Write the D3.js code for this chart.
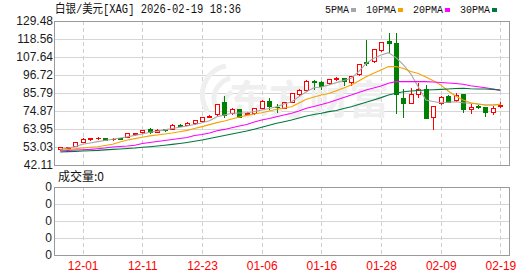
<!DOCTYPE html>
<html lang="zh">
<head>
  <meta charset="UTF-8">
  <title>白银/美元[XAG] 日K</title>
  <script src="https://d3js.org/d3.v7.min.js"></script>
  <style>
    body
    {
      margin: 0;
      background-color: #fff;
    }

    svg
    {
      display: block;
      font-family: "Liberation Sans", "Noto Sans CJK SC", sans-serif;
    }
  </style>
</head>
<body>
  <svg id="chart" width="530" height="276"></svg>
  <script>
    // trading days shown on the chart (month-day)
    const dates = [
      "11-26", "11-27", "11-28", "12-01", "12-02", "12-03", "12-04", "12-05", "12-08", "12-09",
      "12-10", "12-11", "12-12", "12-15", "12-16", "12-17", "12-18", "12-19", "12-22", "12-23",
      "12-24", "12-26", "12-29", "12-30", "12-31", "01-02", "01-05", "01-06", "01-07", "01-08",
      "01-09", "01-12", "01-13", "01-14", "01-15", "01-16", "01-19", "01-20", "01-21", "01-22",
      "01-23", "01-26", "01-27", "01-28", "01-29", "01-30", "02-02", "02-03", "02-04", "02-05",
      "02-06", "02-09", "02-10", "02-11", "02-12", "02-13", "02-16", "02-17", "02-18", "02-19"
    ];

    const open = [
      51.7, 52.6, 53.6, 56.3, 58.1, 58.4, 58.5, 57.6, 58.3, 59.1,
      60.8, 62.0, 63.8, 62.1, 63.8, 64.1, 66.6, 66.6, 67.4, 69.0,
      71.4, 72.9, 80.2, 73.5, 75.9, 73.3, 73.5, 76.9, 81.0, 77.2,
      76.9, 80.5, 85.0, 87.6, 93.3, 92.6, 91.7, 94.3, 94.7, 92.6,
      97.1, 104.8, 105.2, 111.9, 117.3, 116.3, 83.0, 79.9, 85.2, 88.0,
      71.4, 79.5, 84.0, 81.6, 85.0, 75.9, 77.7, 77.1, 74.4, 78.2
    ];
    const high = [
      53.0, 53.2, 56.0, 58.2, 58.3, 59.0, 58.7, 58.3, 58.4, 61.5,
      61.8, 63.5, 64.4, 63.7, 63.9, 66.8, 66.7, 68.2, 69.4, 71.3,
      72.5, 79.4, 84.2, 76.9, 76.0, 74.0, 76.8, 81.4, 82.6, 79.1,
      80.5, 85.9, 88.1, 93.5, 93.4, 92.8, 94.3, 95.4, 95.0, 96.3,
      103.5, 118.0, 112.6, 117.0, 121.9, 122.4, 88.0, 89.0, 92.0, 90.6,
      78.2, 84.0, 84.3, 86.0, 85.2, 79.1, 78.5, 77.3, 77.9, 80.2
    ];
    const low = [
      51.5, 52.2, 53.5, 56.2, 57.3, 57.8, 57.0, 57.3, 58.0, 59.0,
      60.5, 61.8, 61.4, 62.0, 62.9, 64.0, 65.5, 66.3, 67.2, 68.8,
      71.0, 72.6, 71.4, 73.0, 71.0, 73.0, 73.3, 76.5, 75.9, 74.5,
      76.5, 80.2, 84.5, 87.3, 88.0, 88.0, 91.5, 93.7, 90.7, 90.9,
      96.8, 102.8, 104.9, 111.5, 110.7, 73.9, 71.4, 79.7, 83.6, 70.6,
      64.0, 79.0, 80.3, 81.2, 74.1, 73.9, 76.5, 72.0, 73.1, 77.1
    ];
    const close = [
      52.8, 52.9, 55.9, 58.0, 58.3, 58.6, 57.1, 57.8, 58.1, 61.3,
      61.6, 63.3, 62.0, 63.5, 63.4, 66.6, 65.6, 67.8, 69.2, 71.0,
      71.9, 79.1, 72.6, 75.9, 71.4, 73.6, 76.5, 81.1, 77.9, 77.0,
      80.2, 85.6, 87.6, 93.3, 92.5, 89.9, 94.1, 94.6, 93.1, 96.1,
      103.2, 103.8, 112.3, 116.7, 116.3, 85.2, 79.6, 85.3, 88.0, 70.8,
      77.9, 83.2, 80.5, 84.6, 75.9, 77.1, 77.2, 74.1, 76.9, 78.6
    ];

    // moving averages as drawn on the chart
    const ma5 = [
      51.6, 52.4, 53.2, 54.7, 55.5, 56.3, 57.0, 57.7, 58.5, 59.3,
      60.1, 60.9, 62.0, 62.6, 63.4, 64.3, 65.0, 65.8, 66.7, 67.7,
      69.0, 71.4, 72.5, 73.5, 73.7, 73.8, 74.6, 75.5, 76.4, 77.5,
      79.1, 80.5, 83.6, 86.6, 89.0, 89.4, 90.7, 92.1, 93.4, 94.7,
      98.7, 103.8, 106.9, 108.9, 110.3, 107.3, 102.8, 97.3, 89.4, 81.6,
      80.6, 79.9, 80.2, 80.5, 79.9, 79.6, 79.1, 78.5, 78.5, 78.9
    ];
    const ma10 = [
      51.0, 51.5, 52.0, 52.4, 52.9, 53.2, 53.9, 54.7, 56.1, 57.3,
      58.1, 58.9, 59.8, 60.3, 60.9, 61.5, 62.3, 63.1, 64.3, 65.4,
      66.6, 67.8, 68.8, 70.0, 71.2, 72.2, 73.1, 73.8, 74.9, 75.9,
      76.7, 77.5, 79.7, 82.0, 83.4, 84.6, 85.5, 87.2, 88.8, 90.7,
      93.1, 95.7, 97.8, 99.8, 101.8, 101.9, 100.7, 98.8, 97.6, 95.5,
      93.3, 90.7, 87.0, 84.0, 81.6, 79.9, 79.1, 78.5, 78.5, 78.9
    ];
    const ma20 = [
      50.6, 50.9, 51.2, 51.4, 51.6, 52.0, 52.4, 53.0, 53.3, 53.6,
      54.1, 55.2, 55.8, 56.4, 57.0, 57.6, 58.2, 58.8, 60.0, 60.6,
      61.5, 62.9, 63.7, 64.7, 65.8, 66.7, 68.2, 69.4, 70.3, 71.4,
      72.5, 73.5, 74.9, 76.5, 77.6, 78.8, 80.0, 81.6, 83.1, 84.6,
      86.1, 87.6, 88.8, 90.0, 91.7, 92.7, 92.7, 92.7, 92.7, 92.7,
      92.5, 92.2, 91.9, 91.6, 91.1, 90.2, 89.6, 89.0, 88.2, 87.4
    ];
    const ma30 = [
      50.0, 50.2, 50.4, 50.6, 50.8, 51.0, 51.3, 51.6, 51.8, 52.1,
      52.4, 52.9, 53.2, 53.6, 54.1, 54.6, 55.2, 55.8, 56.5, 57.3,
      58.2, 59.1, 60.0, 60.9, 61.8, 62.7, 63.8, 65.0, 66.2, 67.4,
      68.4, 69.4, 70.6, 71.8, 72.8, 73.5, 74.5, 75.2, 76.4, 77.5,
      78.8, 80.2, 81.6, 83.0, 84.6, 85.6, 86.6, 87.0, 87.3, 87.6,
      87.8, 88.0, 88.2, 88.5, 88.7, 88.4, 88.2, 88.2, 88.0, 87.6
    ];

    const yTicks = [129.48, 118.56, 107.64, 96.72, 85.79, 74.87, 63.95, 53.03, 42.11];
    const dateTicks = ["12-01", "12-11", "12-23", "01-06", "01-16", "01-28", "02-09", "02-19"];
    const volTicks = [0, 1, 2, 3, 4];
    const volTickLabels = ["0", "0", "0", "0", "0"];

    const maNames = ["5PMA", "10PMA", "20PMA", "30PMA"];
    const maColors = ["#a6a6a6", "#f5a300", "#ff00ff", "#00783a"];
    const maSeries = [ma5, ma10, ma20, ma30];

    const title = "白银/美元[XAG] 2026-02-19 18:36";
    const volTitle = "成交量:0";

    const UP = "#ff0000";
    const DOWN = "#008000";

    const main = { left: 54, right: 509, top: 21, bottom: 165 };
    const vol = { top: 187, bottom: 255 };

    const svg = d3.select("#chart");

    const x = d3.scalePoint()
      .domain(dates)
      .range([60.3, 500.4]);

    const y = d3.scaleLinear()
      .domain([42.11, 129.48])
      .range([main.bottom, main.top]);

    const yVol = d3.scaleLinear()
      .domain([0, 4])
      .range([vol.bottom, vol.top]);

    const px = v => Math.round(v) + 0.5;

    //grid lines
    const grid = svg.append("g").attr("shape-rendering", "crispEdges");

    grid.selectAll(".hgrid")
      .data(yTicks.slice(1, -1))
      .join("line")
      .attr("x1", main.left).attr("x2", main.right)
      .attr("y1", d => px(y(d))).attr("y2", d => px(y(d)))
      .attr("stroke", "#d6d6d6");

    grid.selectAll(".vhgrid")
      .data(volTicks.slice(1, -1))
      .join("line")
      .attr("x1", main.left).attr("x2", main.right)
      .attr("y1", d => px(yVol(d))).attr("y2", d => px(yVol(d)))
      .attr("stroke", "#d6d6d6");

    [[main.top, main.bottom], [vol.top, vol.bottom]].forEach(([t, b]) => {
      grid.append("g")
        .selectAll("line")
        .data(dateTicks)
        .join("line")
        .attr("x1", d => px(x(d))).attr("x2", d => px(x(d)))
        .attr("y1", t).attr("y2", b)
        .attr("stroke", "#cfcfcf")
        .attr("stroke-dasharray", "4,3");
    });

    //watermark
    const wm = svg.append("g").attr("fill", "none").attr("stroke", "#efefef").attr("stroke-width", 5);
    wm.append("path").attr("d", "M226,66 C204,70 196,96 208,112 M230,78 C214,84 210,100 218,110 M232,92 C224,96 222,104 226,110");
    svg.append("text")
      .attr("x", 229).attr("y", 114)
      .attr("font-family", "Noto Sans CJK SC")
      .attr("font-weight", "bold")
      .attr("font-size", 40)
      .attr("fill", "#efefef")
      .text("东方财富");

    //candles
    const candles = svg.append("g").attr("shape-rendering", "crispEdges");
    dates.forEach((d, i) => {
      const up = close[i] >= open[i];
      const col = up ? UP : DOWN;
      const cx = Math.round(x(d));
      const yTop = Math.round(y(Math.max(open[i], close[i])));
      const yBot = Math.round(y(Math.min(open[i], close[i])));

      candles.append("line")
        .attr("x1", cx + 0.5).attr("x2", cx + 0.5)
        .attr("y1", Math.round(y(high[i]))).attr("y2", Math.round(y(low[i])) + 1)
        .attr("stroke", col);

      if (yBot - yTop < 1) {
        candles.append("line")
          .attr("x1", cx - 2).attr("x2", cx + 3)
          .attr("y1", yTop + 0.5).attr("y2", yTop + 0.5)
          .attr("stroke", col);
      } else {
        candles.append("rect")
          .attr("x", cx - 1.5)
          .attr("y", yTop + 0.5)
          .attr("width", 4)
          .attr("height", yBot - yTop)
          .attr("fill", up ? "#fff" : col)
          .attr("stroke", col);
      }
    });

    //moving average lines
    const line = d3.line()
      .x((v, i) => x(dates[i]))
      .y(v => y(v));

    svg.append("g")
      .selectAll("path")
      .data(maSeries)
      .join("path")
      .attr("d", line)
      .attr("fill", "none")
      .attr("stroke", (s, i) => maColors[i])
      .attr("stroke-width", 1.1);

    //frames
    const frames = svg.append("g").attr("shape-rendering", "crispEdges");
    [[main.top, main.bottom], [vol.top, vol.bottom]].forEach(([t, b]) => {
      frames.append("rect")
        .attr("x", main.left + 0.5).attr("y", t + 0.5)
        .attr("width", main.right - main.left).attr("height", b - t)
        .attr("fill", "none")
        .attr("stroke", "#9a9a9a");
    });

    //axes
    const yAxis = d3.axisLeft(y)
      .tickValues(yTicks)
      .tickFormat(d3.format(".2f"))
      .tickSize(0)
      .tickPadding(1);

    svg.append("g")
      .attr("transform", `translate(${main.left},0)`)
      .call(yAxis)
      .call(g => g.select(".domain").remove())
      .call(g => g.selectAll("text").attr("fill", "#1a1a1a").attr("font-size", 12).attr("font-family", "Liberation Sans"));

    const volAxis = d3.axisLeft(yVol)
      .tickValues(volTicks)
      .tickFormat((d, i) => volTickLabels[i])
      .tickSize(0)
      .tickPadding(2);

    svg.append("g")
      .attr("transform", `translate(${main.left},0)`)
      .call(volAxis)
      .call(g => g.select(".domain").remove())
      .call(g => g.selectAll("text").attr("fill", "#1a1a1a").attr("font-size", 12).attr("font-family", "Liberation Sans"));

    const xAxis = d3.axisBottom(x)
      .tickValues(dateTicks)
      .tickSize(0)
      .tickPadding(6);

    svg.append("g")
      .attr("transform", `translate(0,${vol.bottom})`)
      .call(xAxis)
      .call(g => g.select(".domain").remove())
      .call(g => g.selectAll("text").attr("fill", "#ff0000").attr("font-size", 12).attr("font-family", "Liberation Sans"));

    //titles
    svg.append("text")
      .attr("x", 55).attr("y", 13)
      .attr("font-size", 12)
      .attr("font-family", "Liberation Mono, Noto Sans CJK SC")
      .attr("fill", "#111")
      .attr("textLength", 186)
      .attr("lengthAdjust", "spacingAndGlyphs")
      .text(title);

    svg.append("text")
      .attr("x", 58).attr("y", 181)
      .attr("font-size", 12)
      .attr("font-family", "Noto Sans CJK SC")
      .attr("fill", "#111")
      .text(volTitle);

    //legend
    const legend = svg.append("g")
      .attr("font-family", "Liberation Mono")
      .attr("font-size", 11)
      .attr("fill", "#111");
    let lx = 325;
    maNames.forEach((name, i) => {
      const w = name.length * 6;
      legend.append("text")
        .attr("x", lx).attr("y", 13)
        .attr("textLength", w)
        .attr("lengthAdjust", "spacingAndGlyphs")
        .text(name);
      legend.append("rect")
        .attr("x", lx + w + 2).attr("y", 8)
        .attr("width", 5).attr("height", 4)
        .attr("fill", maColors[i]);
      lx += w + 17;
    });
  </script>
</body>
</html>
